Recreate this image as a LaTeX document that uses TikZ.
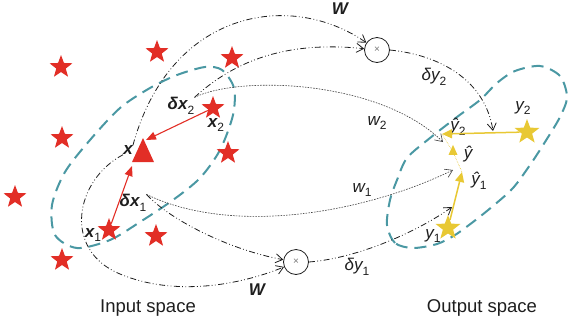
\documentclass[tikz,border=0pt]{standalone}
\usepackage{fontspec}
\setmainfont{Liberation Sans}
\usetikzlibrary{arrows.meta, shapes.geometric, calc}
\definecolor{Red}{RGB}{ 226, 46, 38 }
\definecolor{Teal}{RGB}{ 74, 152, 163 }
\definecolor{Gold}{RGB}{ 232, 200, 52 }
\definecolor{Ink}{HTML}{1E1E1E}
\newcommand{\idx}[1]{\raisebox{-0.5ex}{\normalfont\fontsize{12}{12}\selectfont #1}}
\NewDocumentCommand{\Sample}{O{sample} m m}{
    \node[#1] (#2) at #3 {};
}

\begin{document}
\begin{tikzpicture}[x=1pt, y=-1pt,
    sample/.style={star, star points=5, star point ratio=2.4, fill=Red, inner sep=0pt, minimum size=24pt},
    target/.style={sample, fill=Gold, minimum size=26pt},
    vlbl/.style={inner sep=0pt, text=Ink, font=\fontsize{17}{19}\selectfont\bfseries\itshape},
    ylbl/.style={inner sep=0pt, text=Ink, font=\fontsize{17}{19}\selectfont\itshape},
    caption/.style={inner sep=0pt, text=Ink, font=\fontsize{18.5}{20}\selectfont},
    region/.style={Teal, line width=2pt, dash pattern=on 12pt off 7pt},
    flow/.style={Ink, line width=0.8pt, dash pattern=on 6pt off 2.4pt on 0.8pt off 2.4pt on 0.8pt off 2.4pt,
        -{Straight Barb[length=7pt, width=9pt]}},
    weight/.style={Ink!85, line width=0.6pt, dash pattern=on 1.6pt off 1.2pt,
        -{Straight Barb[length=7pt, width=9pt]}},
    move/.style={Red, line width=1.1pt, -{Triangle[length=10pt, width=8pt]}},
    pull/.style={Gold, line width=1.5pt, -{Triangle[length=10pt, width=9pt]}},
    mult/.style={circle, draw=Ink, line width=0.8pt, minimum size=25pt, inner sep=0pt,
        text=Ink!60, font=\fontsize{10}{10}\selectfont}]
\useasboundingbox (0,0) rectangle (568,325);

% input space
\begin{scope}[name prefix=in-]
    \draw[region] plot[smooth cycle] coordinates {(77,248) (110,240) (140,222) (173,200) (200,178)
        (220,150) (233,115) (234,88) (222,70) (205,67) (177,75) (150,88) (120,108) (90,140)
        (65,172) (52,205) (55,235)};
    \Sample{s1}{(61,67)}
    \Sample{s2}{(157,52)}
    \Sample{s3}{(232,58)}
    \Sample{s4}{(62,138)}
    \Sample{s5}{(228,153)}
    \Sample{s6}{(15,197)}
    \Sample{s7}{(156,236)}
    \Sample{s8}{(62,260)}
    \Sample{x2}{(213,108)}
    \Sample{x1}{(109,230)}
    \node[isosceles triangle, isosceles triangle stretches, shape border rotate=90, fill=Red,
        inner sep=0pt, minimum width=22pt, minimum height=24pt] (x) at (143,155) {};
    \coordinate (x2-tip) at (146,140);
    \coordinate (x1-tip) at (132,166);
    \node[vlbl] (xlab) at (128,150) {x};
    \node[vlbl] (dx2) at (181,106) {δx\idx{2}};
    \node[vlbl] (x2lab) at (216,125) {x\idx{2}};
    \node[vlbl] (x1lab) at (93,235) {x\idx{1}};
    \node[vlbl] (dx1) at (133,203) {δx\idx{1}};
    \node[caption] (name) at (148,308) {Input space};
\end{scope}

% output space
\begin{scope}[name prefix=out-]
    \draw[region] plot[smooth cycle] coordinates {(413,248) (395,243) (387,225) (390,200) (397,180)
        (407,158) (430,138) (457,117) (480,100) (497,83) (515,71) (540,66) (560,76) (567,97)
        (560,117) (545,142) (530,165) (513,188) (493,206) (473,222) (455,235) (437,244)};
    \Sample[target]{y2}{(527,132)}
    \Sample[target]{y1}{(448,228)}
    \node[isosceles triangle, isosceles triangle stretches, shape border rotate=90, fill=Gold,
        inner sep=0pt, minimum width=9pt, minimum height=10pt] (yhat) at (453,152) {};
    \coordinate (yh2-tip) at (442,134);
    \coordinate (yh1-tip) at (462,172);
    \coordinate (w2-tip) at (443,142);
    \coordinate (dy2-tip) at (493,131);
    \coordinate (w1-tip) at (453,170);
    \coordinate (dy1-tip) at (452,207);
    \node[ylbl] (y2lab) at (523,108) {y\idx{2}};
    \node[ylbl] (y1lab) at (433,236) {y\idx{1}};
    \node[ylbl] (yh2lab) at (458,127) {ŷ\idx{2}};
    \node[ylbl] (yhlab) at (468,154) {ŷ};
    \node[ylbl] (yh1lab) at (479,181) {ŷ\idx{1}};
    \node[caption] (name) at (482,308) {Output space};
\end{scope}

\node[mult] (mul1) at (377,50) {×};
\node[mult] (mul2) at (296,262) {×};
\node[vlbl] (Wtop) at (340,9) {W};
\node[vlbl] (Wbot) at (257,290) {W};
\node[ylbl] (w2) at (377,123) {w\idx{2}};
\node[ylbl] (w1) at (362,190) {w\idx{1}};
\node[ylbl] (dy2) at (434,77) {δy\idx{2}};
\node[ylbl] (dy1) at (357,267) {δy\idx{1}};

% moves in both spaces
\draw[move] (in-x2) -- (in-x2-tip);
\draw[move] (in-x1) -- (in-x1-tip);
\draw[pull] (out-y2) -- (out-yh2-tip);
\draw[pull] (out-y1) -- (out-yh1-tip);
\draw[Gold, line width=0.6pt, densely dotted] (out-yh2-tip) -- (out-yhat);
\draw[Gold, line width=0.6pt, densely dotted] (out-yhat) -- (out-yh1-tip);

% mapping
\draw[flow] (in-xlab.north east) .. controls (170,10) and (290,-10) .. (mul1);
\draw[flow] (in-xlab.south west) .. controls (75,180) and (62,250) .. (120,274)
    .. controls (175,297) and (240,285) .. (mul2);
\draw[flow] (in-dx2.north east) .. controls (230,65) and (280,40) .. (mul1);
\draw[flow] (in-dx1.north east) .. controls (170,220) and (230,250) .. (mul2);
\draw[weight] (in-dx2.north east) .. controls (240,75) and (380,80) .. (out-w2-tip);
\draw[weight] (in-dx1.north east) .. controls (230,235) and (360,215) .. (out-w1-tip);
\draw[flow] (mul1.east) .. controls (440,55) and (485,80) .. (out-dy2-tip);
\draw[flow] (mul2.east) .. controls (360,258) and (420,230) .. (out-dy1-tip);
\end{tikzpicture}
\end{document}
